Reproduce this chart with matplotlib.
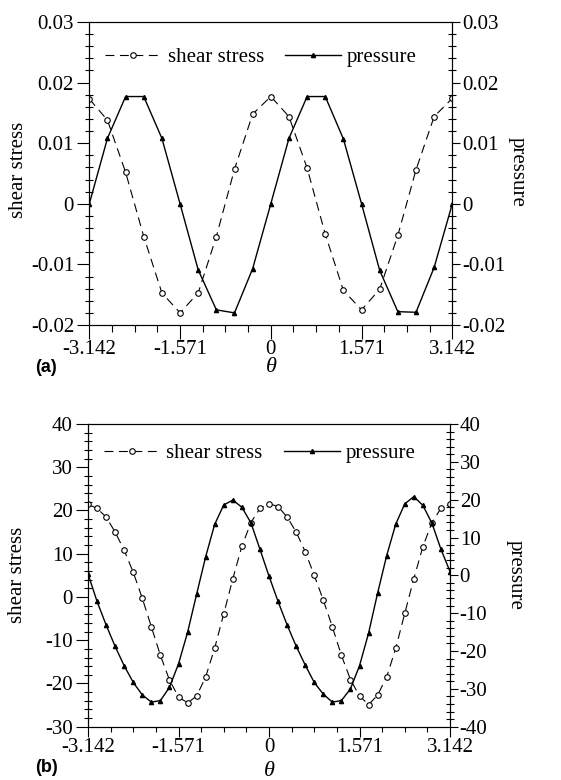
import numpy as np
import matplotlib
matplotlib.use("Agg")
import matplotlib.pyplot as plt
from matplotlib.ticker import MultipleLocator, FixedLocator
from matplotlib.lines import Line2D

plt.rcParams['font.family'] = ['Liberation Serif', 'DejaVu Serif']
plt.rcParams['font.size'] = 15

# panel (a): 21 samples, step pi/10
theta_a = np.linspace(-np.pi, np.pi, 21)
shear_a = [0.0173, 0.0138, 0.0052, -0.0054, -0.0147, -0.0180, -0.0147, -0.0054, 0.0057, 0.0148, 0.0177,
           0.0144, 0.0059, -0.0050, -0.0143, -0.0175, -0.0141, -0.0052, 0.0056, 0.0144, 0.0174]
pressure_a = [0.0, 0.0108, 0.0177, 0.0177, 0.0108, 0.0, -0.0109, -0.0175, -0.0180, -0.0107, 0.0,
              0.0108, 0.0177, 0.0177, 0.0107, 0.0, -0.0110, -0.0178, -0.0179, -0.0105, 0.0]

# panel (b): 41 samples, step pi/20
theta_b = np.linspace(-np.pi, np.pi, 41)
shear_b = [21.4, 20.5, 18.5, 15.0, 10.8, 5.7, -0.3, -6.9, -13.5, -19.2, -23.1, -24.5, -22.9, -18.5,
           -11.8, -3.9, 4.2, 11.7, 17.2, 20.5, 21.6, 20.9, 18.5, 15.0, 10.5, 5.0, -0.7, -6.9, -13.5,
           -19.1, -22.9, -24.9, -22.7, -18.5, -11.9, -3.8, 4.2, 11.6, 17.2, 20.5, 21.4]
pressure_b = [0.4, -6.9, -13.1, -18.8, -23.9, -28.3, -31.6, -33.5, -33.1, -29.6, -23.4, -15.1, -5.0,
              4.9, 13.5, 18.6, 19.9, 18.0, 13.9, 6.9, -0.2, -6.9, -13.1, -18.7, -23.7, -28.3, -31.4,
              -33.5, -33.1, -30.0, -23.9, -15.3, -4.7, 5.2, 13.5, 18.9, 20.8, 18.5, 13.8, 6.9, 1.0]

x_ticks = [-np.pi, -np.pi / 2, 0, np.pi / 2, np.pi]
x_labels = ["-3.142", "-1.571", "0", "1.571", "3.142"]

shear_style = dict(color="black", lw=0.8, linestyle=(0, (8, 5)), marker="o", markersize=4,
                   markerfacecolor="white", markeredgecolor="black", markeredgewidth=0.8)
press_style = dict(color="black", lw=1.0, linestyle="-", marker="^", markersize=3,
                   markerfacecolor="black", markeredgecolor="black")


def setup(ax, axr, left_lim, left_major, right_lim, right_major, left_labels, right_labels, xlen):
    ax.set_xlim(-np.pi, np.pi)
    ax.xaxis.set_major_locator(FixedLocator(x_ticks))
    ax.set_xticklabels(x_labels)
    ax.xaxis.set_minor_locator(MultipleLocator(np.pi / 8))
    ax.set_ylim(*left_lim)
    ax.set_yticks(left_major)
    ax.set_yticklabels(left_labels)
    ax.yaxis.set_minor_locator(MultipleLocator((left_major[1] - left_major[0]) / 5))
    axr.set_ylim(*right_lim)
    axr.set_yticks(right_major)
    axr.set_yticklabels(right_labels)
    axr.yaxis.set_minor_locator(MultipleLocator((right_major[1] - right_major[0]) / 5))
    ax.tick_params(axis="x", which="major", direction="out", length=xlen, width=0.8, pad=1, labelsize=15)
    ax.tick_params(axis="x", which="minor", direction="out", length=xlen / 2, width=0.8)
    ax.tick_params(axis="y", which="major", direction="out", length=9, width=0.8, pad=2, labelsize=15)
    ax.tick_params(axis="y", which="minor", direction="inout", length=6, width=0.8)
    axr.tick_params(axis="y", which="major", direction="out", length=6, width=0.8, pad=1, labelsize=15)
    axr.tick_params(axis="y", which="minor", direction="inout", length=6, width=0.8)
    for a in (ax, axr):
        for sp in a.spines.values():
            sp.set_linewidth(0.8)


def legend(ax, x, y):
    h1 = Line2D([], [], **shear_style)
    h2 = Line2D([], [], **press_style)
    ax.legend([h1, h2], ["shear stress", "pressure"], loc="center", bbox_to_anchor=(x, y),
              ncol=2, frameon=False, handlelength=2.7, handletextpad=0.3, columnspacing=1.0,
              numpoints=1, fontsize=15)


fig = plt.figure(figsize=(5.61, 7.80), dpi=100)

# (a)
ax1 = fig.add_axes([89.3 / 561, 1 - 325 / 780, 363 / 561, 303 / 780])
ax1r = ax1.twinx()
ax1.plot(theta_a, shear_a, **shear_style)
ax1r.plot(theta_a, pressure_a, **press_style)
ya = [-0.02, -0.01, 0, 0.01, 0.02, 0.03]
ya_lab = ["-0.02", "-0.01", "0", "0.01", "0.02", "0.03"]
setup(ax1, ax1r, (-0.02, 0.03), ya, (-0.02, 0.03), ya, ya_lab, ya_lab, 10)
legend(ax1r, 0.473, 0.884)

# (b)
ax2 = fig.add_axes([88 / 561, 1 - 726.7 / 780, 362 / 561, 302.7 / 780])
ax2r = ax2.twinx()
ax2.plot(theta_b, shear_b, **shear_style)
ax2r.plot(theta_b, pressure_b, **press_style)
yl = [-30, -20, -10, 0, 10, 20, 30, 40]
yr = [-40, -30, -20, -10, 0, 10, 20, 30, 40]
setup(ax2, ax2r, (-30, 40), yl, (-40, 40), yr, [str(v) for v in yl], [str(v) for v in yr], 7)
legend(ax2r, 0.475, 0.904)

# axis titles
fig.text(19 / 561, 1 - 170 / 780, "shear stress", rotation=90, ha="center", va="center", fontsize=15)
fig.text(517 / 561, 1 - 172 / 780, "pressure", rotation=270, ha="center", va="center", fontsize=15)
fig.text(18 / 561, 1 - 575 / 780, "shear stress", rotation=90, ha="center", va="center", fontsize=15)
fig.text(515 / 561, 1 - 575 / 780, "pressure", rotation=270, ha="center", va="center", fontsize=15)
fig.text(271 / 561, 1 - 368 / 780, "θ", style="italic", ha="center", va="center", fontsize=16)
fig.text(269 / 561, 1 - 771 / 780, "θ", style="italic", ha="center", va="center", fontsize=16)
fig.text(35 / 561, 1 - 368 / 780, "(a)", family="Liberation Sans", weight="bold", ha="left",
         va="center", fontsize=13)
fig.text(35 / 561, 1 - 768 / 780, "(b)", family="Liberation Sans", weight="bold", ha="left",
         va="center", fontsize=13)

fig.savefig("out.png", dpi=100)
